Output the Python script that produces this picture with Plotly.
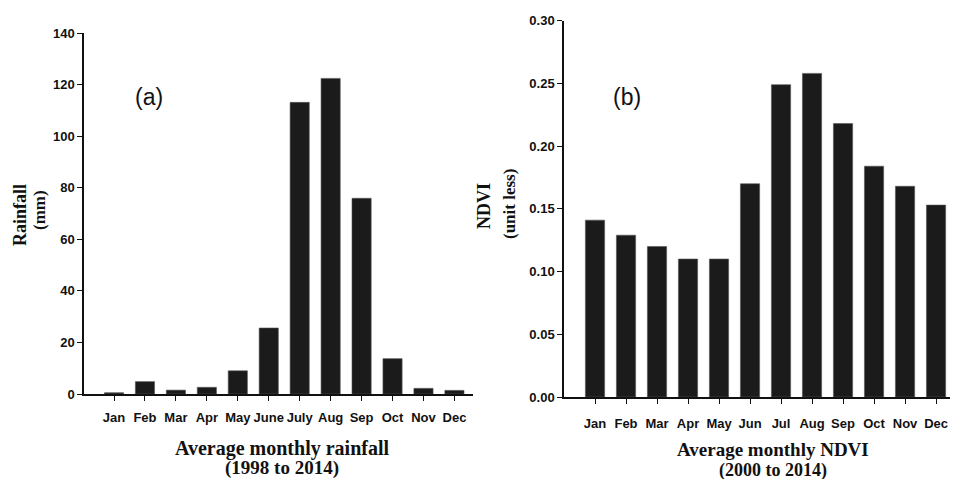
import plotly.graph_objects as go

months_a = ["Jan", "Feb", "Mar", "Apr", "May", "June", "July", "Aug", "Sep", "Oct", "Nov", "Dec"]
rainfall = [0.5, 4.8, 1.5, 2.6, 9.0, 25.6, 113.1, 122.4, 75.9, 13.7, 2.2, 1.4]

months_b = ["Jan", "Feb", "Mar", "Apr", "May", "Jun", "Jul", "Aug", "Sep", "Oct", "Nov", "Dec"]
ndvi = [0.141, 0.129, 0.120, 0.110, 0.110, 0.170, 0.249, 0.258, 0.218, 0.184, 0.168, 0.153]

ticks_a = [0, 20, 40, 60, 80, 100, 120, 140]
ticks_b = [0, 0.05, 0.10, 0.15, 0.20, 0.25, 0.30]

# page body has an 8px margin; lay out in window pixels and convert
OFF = 8
W, H = 958 - 2 * OFF, 487 - 2 * OFF
def px(x): return (x - OFF) / W
def py(y): return 1 - (y - OFF) / H

tickfont = dict(family="Liberation Sans, Arial", size=13, color="#111")
serif = "Liberation Serif, Times New Roman, serif"
bar_color = "#1b1b1b"

def b(s): return f"<b>{s}</b>"

fig = go.Figure()
fig.add_trace(go.Bar(x=list(range(12)), y=rainfall, marker=dict(color=bar_color, line=dict(color="#555", width=0.6)),
                     xaxis="x", yaxis="y", showlegend=False))
fig.add_trace(go.Bar(x=list(range(12)), y=ndvi, marker=dict(color=bar_color, line=dict(color="#555", width=0.6)),
                     xaxis="x2", yaxis="y2", showlegend=False))

axcommon = dict(showgrid=False, zeroline=False, showline=True, linecolor="#111", linewidth=1.5,
                ticks="outside", ticklen=5, tickcolor="#111", tickwidth=1.2, tickfont=tickfont,
                automargin=False, tickangle=0)

fig.update_layout(
    width=W, height=H, margin=dict(l=0, r=0, t=0, b=0),
    paper_bgcolor="white", plot_bgcolor="white", bargap=0.38,
    xaxis=dict(domain=[px(84), px(473)], range=[-0.97, 11.6], anchor="y", ticklabelstandoff=6,
               tickmode="array", tickvals=list(range(12)), ticktext=[b(m) for m in months_a], **axcommon),
    yaxis=dict(domain=[py(394), py(33)], range=[0, 140], anchor="x",
               tickmode="array", tickvals=ticks_a,
               ticktext=[b(str(t)) for t in ticks_a], **axcommon),
    xaxis2=dict(domain=[px(564), px(950)], range=[-1.0, 11.45], anchor="y2", ticklabelstandoff=9,
                tickmode="array", tickvals=list(range(12)), ticktext=[b(m) for m in months_b], **axcommon),
    yaxis2=dict(domain=[py(397), py(20.7)], range=[0, 0.30], anchor="x2",
                tickmode="array", tickvals=ticks_b,
                ticktext=[b(f"{t:.2f}") for t in ticks_b], **axcommon),
)

ann = []
def add(text, x, y, size, family, angle=0, bold=True):
    t = f"<b>{text}</b>" if bold else text
    ann.append(dict(text=t, x=px(x), y=py(y), xref="paper", yref="paper", showarrow=False,
                    textangle=angle, font=dict(family=family, size=size, color="#111"),
                    xanchor="center", yanchor="middle"))

add("Rainfall", 20, 215, 18, serif, -90)
add("(mm)", 39, 210, 17, serif, -90)
add("NDVI", 484, 206, 18, serif, -90)
add("(unit less)", 509, 204, 17, serif, -90)
add("Average monthly rainfall", 282, 448, 20, serif)
add("(1998 to 2014)", 282, 468, 19, serif)
add("Average monthly NDVI", 773, 449, 19, serif)
add("(2000 to 2014)", 773, 470, 18, serif)
add("(a)", 149, 97, 23, "Liberation Sans, Arial", bold=False)
add("(b)", 627, 97, 23, "Liberation Sans, Arial", bold=False)
fig.update_layout(annotations=ann)

fig.write_html("out.html")
